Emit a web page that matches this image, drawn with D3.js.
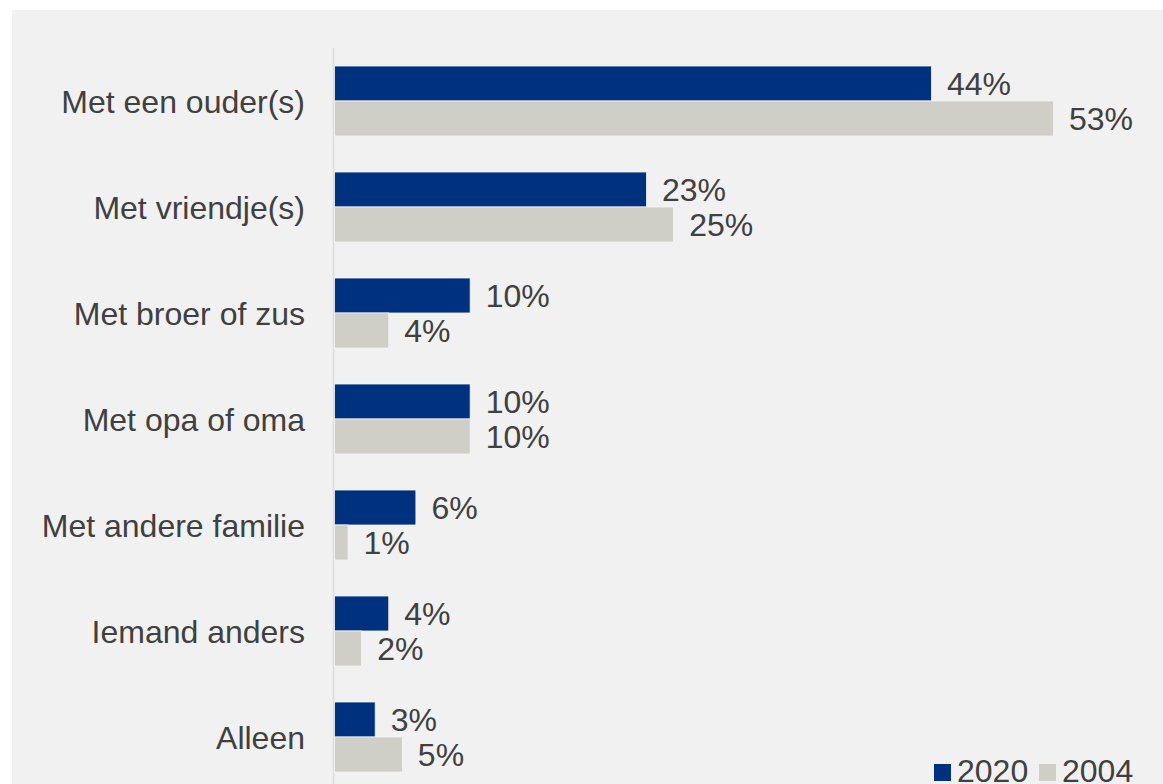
<!DOCTYPE html>
<html><head><meta charset="utf-8">
<script src="https://cdn.jsdelivr.net/npm/d3@7"></script>
<style>
html,body{margin:0;padding:0;background:#fff;}
svg{display:block;}
text{font-family:"Liberation Sans",Arial,sans-serif;fill:#404040;}
</style></head>
<body>
<script>
const categories = ["Met een ouder(s)","Met vriendje(s)","Met broer of zus","Met opa of oma","Met andere familie","Iemand anders","Alleen"];
const seriesNames = ["2020","2004"];
const values2020 = [44,23,10,10,6,4,3];
const values2004 = [53,25,4,10,1,2,5];
const colors = {"2020":"#00317f","2004":"#cfcfc7"};

const W=1163,H=784;
const FS=32;
const svg=d3.select("body").append("svg").attr("width",W).attr("height",H);
svg.append("rect").attr("x",12).attr("y",10).attr("width",W-12).attr("height",H-10).attr("fill","#f1f1f1");

const x=d3.scaleLinear().domain([0,53]).range([334,1053]);
const y=d3.scaleBand().domain(categories).range([48,790]).paddingInner(0).paddingOuter(0);
const sub=d3.scaleBand().domain(seriesNames).range([18,y.bandwidth()-18]);

// axis line
svg.append("line").attr("x1",333.5).attr("x2",333.5).attr("y1",48).attr("y2",H).attr("stroke","#dcdcdc").attr("stroke-width",1.5);

const data=[];
categories.forEach((c,i)=>{
  data.push({cat:c,s:"2020",v:values2020[i]});
  data.push({cat:c,s:"2004",v:values2004[i]});
});

const g=svg.append("g");
g.selectAll("rect.bar").data(data).enter().append("rect")
 .attr("class","bar")
 .attr("x",x(0)+0.5)
 .attr("y",d=>y(d.cat)+sub(d.s))
 .attr("width",d=>x(d.v)-x(0))
 .attr("height",sub.bandwidth())
 .attr("fill",d=>colors[d.s])
 .attr("stroke","#f4f4f4").attr("stroke-width",0.8);

g.selectAll("text.val").data(data).enter().append("text")
 .attr("class","val")
 .attr("x",d=>x(d.v)+16)
 .attr("y",d=>y(d.cat)+sub(d.s)+sub.bandwidth()/2)
 .attr("dy","0.36em")
 .attr("font-size",FS)
 .text(d=>d.v+"%");

// category labels
svg.append("g").selectAll("text").data(categories).enter().append("text")
 .attr("x",305).attr("y",d=>y(d)+y.bandwidth()/2).attr("dy","0.36em")
 .attr("text-anchor","end").attr("font-size",FS).text(d=>d);

// legend
const leg=svg.append("g");
const legItems=[{s:"2020",x:934},{s:"2004",x:1039}];
legItems.forEach(it=>{
  leg.append("rect").attr("x",it.x).attr("y",764).attr("width",17).attr("height",17).attr("fill",colors[it.s]);
  leg.append("text").attr("x",it.x+23).attr("y",782).attr("font-size",FS).text(it.s);
});
</script>
</body></html>
